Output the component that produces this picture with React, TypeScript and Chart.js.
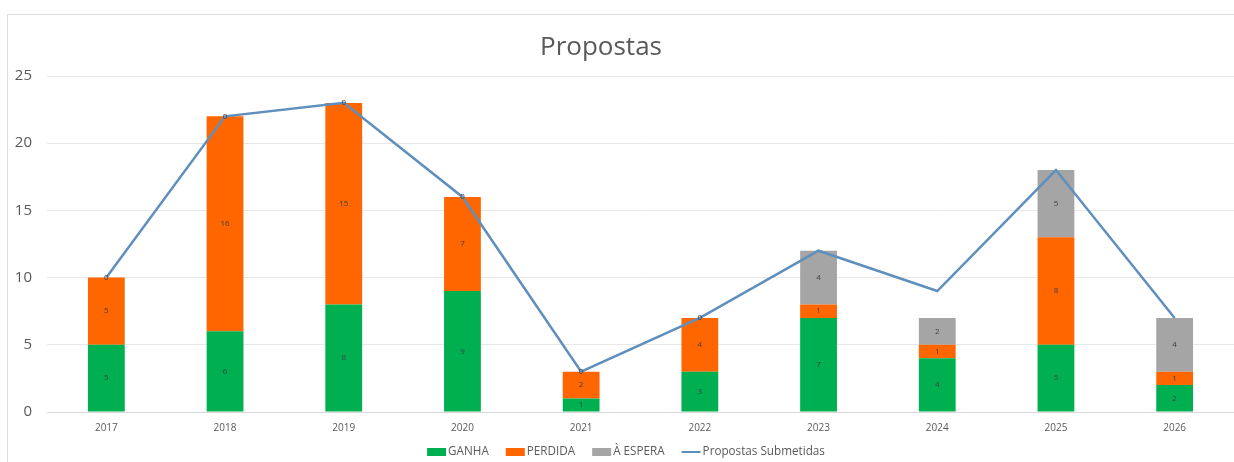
import React, { useEffect, useRef } from "react";
import { Chart, registerables } from "chart.js";

Chart.register(...registerables);

const categories = ["2017", "2018", "2019", "2020", "2021", "2022", "2023", "2024", "2025", "2026"];
const ganha = [5, 6, 8, 9, 1, 3, 7, 4, 5, 2];
const perdida = [5, 16, 15, 7, 2, 4, 1, 1, 8, 1];
const espera = [0, 0, 0, 0, 0, 0, 4, 2, 5, 4];
const submetidas = [10, 22, 23, 16, 3, 7, 12, 9, 18, 7];
const yTicks = [0, 5, 10, 15, 20, 25];

const FONT = "'Open Sans', 'Noto Sans', sans-serif";
const TEXT = "#595959";

const framePlugin = {
  id: "frame",
  beforeDraw(chart: any) {
    const ctx = chart.ctx;
    ctx.save();
    ctx.fillStyle = "#ffffff";
    ctx.fillRect(0, 0, chart.width, chart.height);
    ctx.strokeStyle = "#dcdcdc";
    ctx.lineWidth = 1;
    ctx.strokeRect(7.5, 14.5, chart.width + 20, chart.height + 20);
    ctx.restore();
  },
};

const titlePlugin = {
  id: "customTitle",
  afterDraw(chart: any) {
    const ctx = chart.ctx;
    ctx.save();
    ctx.font = `26px ${FONT}`;
    ctx.fillStyle = TEXT;
    ctx.textAlign = "center";
    ctx.textBaseline = "middle";
    ctx.fillText("Propostas", 601, 48);
    ctx.restore();
  },
};

const legendPlugin = {
  id: "customLegend",
  afterDraw(chart: any) {
    const ctx = chart.ctx;
    ctx.save();
    ctx.font = `11.7px ${FONT}`;
    ctx.textBaseline = "middle";
    ctx.textAlign = "left";
    const boxW = 19;
    const gapText = 2;
    const gapItem = 17;
    const items = chart.data.datasets.map((ds: any) => ({
      label: ds.label,
      color: ds.type === "line" ? ds.borderColor : ds.backgroundColor,
      line: ds.type === "line",
    }));
    let total = 0;
    items.forEach((it: any, i: number) => {
      total += boxW + gapText + ctx.measureText(it.label).width;
      if (i < items.length - 1) total += gapItem;
    });
    let x = 626 - total / 2;
    const y = 452;
    items.forEach((it: any) => {
      if (it.line) {
        ctx.strokeStyle = it.color;
        ctx.lineWidth = 2;
        ctx.beginPath();
        ctx.moveTo(x, y);
        ctx.lineTo(x + boxW, y);
        ctx.stroke();
      } else {
        ctx.fillStyle = it.color;
        ctx.fillRect(x, y - 4, boxW, 8);
      }
      x += boxW + gapText;
      ctx.fillStyle = TEXT;
      ctx.fillText(it.label, x, y);
      x += ctx.measureText(it.label).width + gapItem;
    });
    ctx.restore();
  },
};

const barLabelPlugin = {
  id: "barLabels",
  afterDatasetsDraw(chart: any) {
    const ctx = chart.ctx;
    ctx.save();
    ctx.font = `8px ${FONT}`;
    ctx.fillStyle = "#404040";
    ctx.textAlign = "center";
    ctx.textBaseline = "middle";
    chart.data.datasets.forEach((ds: any, i: number) => {
      if (ds.type !== "bar") return;
      const meta = chart.getDatasetMeta(i);
      meta.data.forEach((el: any, j: number) => {
        const v = ds.data[j];
        const yMid = (el.y + el.base) / 2;
        ctx.fillText(String(v), el.x, yMid);
      });
    });
    ctx.restore();
  },
};

export default function App() {
  const ref = useRef<HTMLCanvasElement | null>(null);
  useEffect(() => {
    if (!ref.current) return;
    const chart = new Chart(ref.current, {
      type: "bar",
      data: {
        labels: categories,
        datasets: [
          {
            type: "bar",
            label: "GANHA",
            data: ganha,
            backgroundColor: "#00b050",
            stack: "s",
            order: 1,
            barPercentage: 0.31,
            categoryPercentage: 1,
          } as any,
          {
            type: "bar",
            label: "PERDIDA",
            data: perdida,
            backgroundColor: "#ff6600",
            stack: "s",
            order: 1,
            barPercentage: 0.31,
            categoryPercentage: 1,
          } as any,
          {
            type: "bar",
            label: "À ESPERA",
            data: espera,
            backgroundColor: "#a5a5a5",
            stack: "s",
            order: 1,
            barPercentage: 0.31,
            categoryPercentage: 1,
          } as any,
          {
            type: "line",
            label: "Propostas Submetidas",
            data: submetidas,
            borderColor: "#5f8fbd",
            backgroundColor: "#5f8fbd",
            borderWidth: 2.5,
            tension: 0,
            pointRadius: 0,
            pointHoverRadius: 0,
            stack: "line",
            order: 0,
          } as any,
        ],
      },
      options: {
        responsive: false,
        animation: false,
        layout: { padding: { top: 76, right: 0, left: 0, bottom: 18 } },
        plugins: {
          title: { display: false },
          tooltip: { enabled: false },
          legend: { display: false },
        },
        scales: {
          x: {
            stacked: true,
            offset: true,
            grid: { display: false, drawTicks: false },
            border: { display: true, color: "#d9d9d9", width: 1 },
            ticks: { color: TEXT, font: { family: FONT, size: 10 }, padding: 10 },
          },
          y: {
            stacked: true,
            min: 0,
            max: 25,
            afterFit(scale: any) {
              scale.width = 47;
            },
            afterBuildTicks(scale: any) {
              scale.ticks = yTicks.map((v) => ({ value: v }));
            },
            grid: { color: "#e8e8e8", drawTicks: false },
            border: { display: false },
            ticks: { color: TEXT, font: { family: FONT, size: 15 }, padding: 15 },
          },
        },
      },
      plugins: [framePlugin, titlePlugin, barLabelPlugin, legendPlugin],
    });
    return () => chart.destroy();
  }, []);
  return (
    <div style={{ position: "absolute", left: 0, top: 0, width: 1234, height: 462 }}>
      <canvas ref={ref} width={1234} height={462} />
    </div>
  );
}
